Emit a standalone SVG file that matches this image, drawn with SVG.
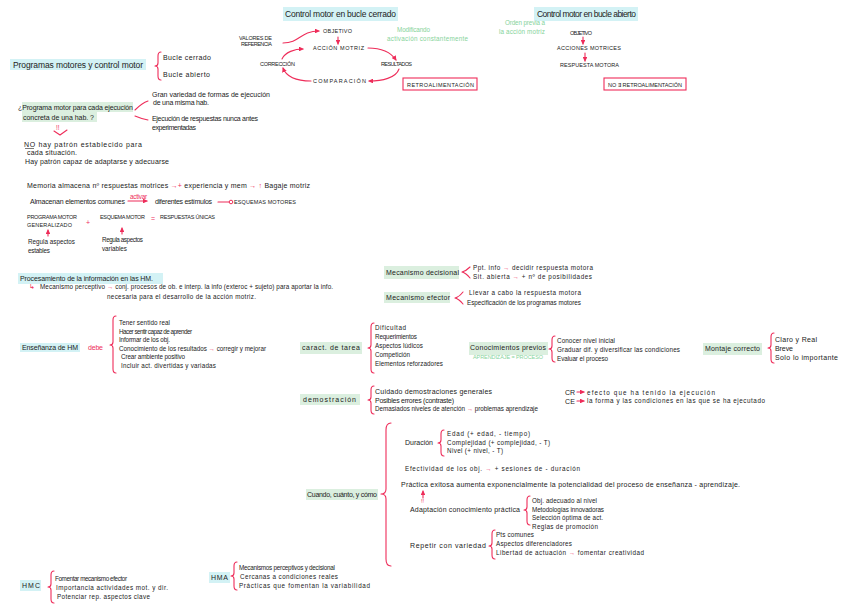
<svg xmlns="http://www.w3.org/2000/svg" width="848" height="612" viewBox="0 0 848 612">
<defs>
<style>
text{font-family:"Liberation Sans","DejaVu Sans",sans-serif;font-size:7px;fill:#222}
.m{font-size:8.5px}
.c{font-size:5.5px}
.s{font-size:6.3px}
.r{fill:#ee2d5a}
.g{fill:#86d39a}
.hc{fill:#d3f2f5}
.hg{fill:#dbefdf}
.ln{fill:none;stroke:#ee2d5a;stroke-width:1.1;stroke-linecap:round;stroke-linejoin:round}
.box{fill:none;stroke:#ee2d5a;stroke-width:1.1}
</style>
<marker id="ah" viewBox="0 0 6 6" refX="5" refY="3" markerWidth="4.5" markerHeight="4.5" orient="auto"><path d="M0,0 L6,3 L0,6 z" fill="#ee2d5a"/></marker>
</defs>
<rect width="848" height="612" fill="#ffffff"/>

<!-- highlights -->
<g id="highlights">
<rect class="hc" x="283" y="7" width="115" height="14"/>
<rect class="hc" x="534" y="7" width="104" height="14"/>
<rect class="hc" x="10" y="59" width="136" height="11"/>
<rect class="hg" x="22" y="102" width="111" height="10"/>
<rect class="hg" x="22" y="112" width="75" height="10"/>
<rect class="hc" x="18" y="273" width="145" height="11"/>
<rect class="hc" x="20" y="343" width="60" height="9"/>
<rect class="hg" x="384" y="266" width="75" height="13"/>
<rect class="hg" x="384" y="292" width="66" height="11"/>
<rect class="hg" x="300" y="342" width="62" height="12"/>
<rect class="hg" x="469" y="342" width="79" height="13"/>
<rect class="hg" x="703" y="343" width="59" height="12"/>
<rect class="hg" x="300" y="394" width="60" height="11"/>
<rect class="hg" x="306" y="489" width="72" height="11"/>
<rect class="hc" x="20" y="580" width="21" height="11"/>
<rect class="hc" x="209" y="572" width="21" height="11"/>
</g>

<!-- closed loop -->
<g id="closed-title"><text class="m" x="285" y="17" textLength="111">Control motor en bucle cerrado</text></g>
<g id="valores"><text class="c" x="239" y="40" textLength="33">VALORES DE</text><text class="c" x="241" y="46" textLength="31">REFERENCIA</text></g>
<g id="objetivo"><text class="c" x="323" y="33" textLength="29">OBJETIVO</text></g>
<g id="accion"><text class="c" x="313" y="50" textLength="51">ACCIÓN MOTRIZ</text></g>
<g id="correccion"><text class="c" x="260" y="66" textLength="35">CORRECCIÓN</text></g>
<g id="resultados"><text class="c" x="381" y="66" textLength="31">RESULTADOS</text></g>
<g id="comparacion"><text class="c" x="313" y="83" textLength="53">COMPARACIÓN</text></g>
<g id="modificando"><text class="g s" x="397" y="32" textLength="33">Modificando</text><text class="g s" x="387" y="41" textLength="81">activación constantemente</text></g>
<g id="retro"><rect class="box" x="403" y="78" width="74" height="12"/><text class="c" x="407" y="86.5" textLength="67">RETROALIMENTACIÓN</text></g>

<!-- open loop -->
<g id="open-title"><text class="m" x="537" y="17" textLength="99">Control motor en bucle abierto</text></g>
<g id="orden"><text class="g s" x="505" y="25" textLength="40">Orden previa a</text><text class="g s" x="499" y="34" textLength="46">la acción motriz</text></g>
<g id="objetivo2"><text class="c" x="570" y="35" textLength="22">OBJETIVO</text></g>
<g id="acciones"><text class="c" x="557" y="50" textLength="64">ACCIONES MOTRICES</text></g>
<g id="respuesta"><text class="c" x="560" y="67" textLength="59">RESPUESTA MOTORA</text></g>
<g id="noretro"><rect class="box" x="604" y="78" width="82" height="12"/><text class="c" x="608" y="86.5" textLength="74">NO ∃ RETROALIMENTACIÓN</text></g>

<!-- left block -->
<g id="programas"><text class="m" x="13" y="68" textLength="130">Programas motores y control motor</text></g>
<g id="bucles"><text x="163" y="60" textLength="48">Bucle cerrado</text><text x="163" y="77" textLength="47">Bucle abierto</text></g>
<g id="pregunta"><text x="18" y="110" textLength="115">¿Programa motor para cada ejecución</text><text x="23" y="120" textLength="71">concreta de una hab. ?</text></g>
<g id="gran"><text x="152" y="97" textLength="118">Gran variedad de formas de ejecución</text><text x="153" y="105" textLength="56">de una misma hab.</text></g>
<g id="ejec"><text x="152" y="121" textLength="106">Ejecución de respuestas nunca antes</text><text x="152" y="130" textLength="44">experimentadas</text></g>
<g id="nohay"><text x="24" y="147" textLength="118">NO hay patrón establecido para</text><text x="27" y="155" textLength="50">cada situación.</text><text x="25" y="164" textLength="144">Hay patrón capaz de adaptarse y adecuarse</text></g>

<g id="memoria"><text x="27" y="188" textLength="283">Memoria almacena nº respuestas motrices <tspan class="r">→+</tspan> experiencia y mem <tspan class="r">→ ↑</tspan> Bagaje motriz</text></g>
<g id="almacenan"><text x="30" y="204" textLength="95">Almacenan elementos comunes</text><text class="r s" x="130" y="199" textLength="17">activar</text><text x="155" y="204" textLength="57">diferentes estímulos</text><text class="c" x="234" y="204" textLength="62">ESQUEMAS MOTORES</text></g>
<g id="pmg"><text class="c" x="27" y="219" textLength="50">PROGRAMA MOTOR</text><text class="c" x="27" y="227" textLength="45">GENERALIZADO</text><text class="r" x="86" y="225" font-size="9">+</text><text class="c" x="100" y="219" textLength="45">ESQUEMA MOTOR</text><text class="r" x="151" y="221" font-size="9">=</text><text class="c" x="160" y="219" textLength="55">RESPUESTAS ÚNICAS</text></g>
<g id="regula1"><text class="s" x="28" y="244" textLength="47">Regula aspectos</text><text class="s" x="28" y="253" textLength="22">estables</text></g>
<g id="regula2"><text class="s" x="102" y="242" textLength="41">Regula aspectos</text><text class="s" x="102" y="251" textLength="25">variables</text></g>

<g id="procesamiento"><text x="20" y="281" textLength="133">Procesamiento de la información en las HM.</text><text class="r" x="29" y="289">↳</text><text class="s" x="40" y="289" textLength="293">Mecanismo perceptivo <tspan class="r">→</tspan> conj. procesos de ob. e interp. la info (exteroc + sujeto) para aportar la info.</text><text class="s" x="107" y="299" textLength="149">necesaria para el desarrollo de la acción motriz.</text></g>

<g id="ensenanza"><text x="22" y="350" textLength="56">Enseñanza de HM</text><text class="r" x="88" y="350" textLength="15">debe</text></g>
<g id="ens-items"><text class="s" x="119" y="325" textLength="51">Tener sentido real</text><text class="s" x="119" y="334" textLength="73">Hacer sentir capaz de aprender</text><text class="s" x="119" y="342" textLength="51">Informar de los obj.</text><text class="s" x="119" y="351" textLength="147">Conocimiento de los resultados <tspan class="r">→</tspan> corregir y mejorar</text><text class="s" x="121" y="359" textLength="64">Crear ambiente positivo</text><text class="s" x="121" y="368" textLength="95">Incluir act. divertidas y variadas</text></g>

<!-- middle -->
<g id="decisional"><text x="386" y="275" textLength="73">Mecanismo decisional</text><text class="s" x="473" y="270" textLength="120">Ppt. info <tspan class="r">→</tspan> decidir respuesta motora</text><text class="s" x="473" y="279" textLength="119">Sit. abierta <tspan class="r">→</tspan> + nº de posibilidades</text></g>
<g id="efector"><text x="386" y="300" textLength="64">Mecanismo efector</text><text class="s" x="469" y="295" textLength="112">Llevar a cabo la respuesta motora</text><text class="s" x="467" y="305" textLength="114">Especificación de los programas motores</text></g>

<g id="caract"><text x="302" y="350" textLength="58">caract. de tarea</text><text class="s" x="375" y="330" textLength="31">Dificultad</text><text class="s" x="375" y="339" textLength="42">Requerimientos</text><text class="s" x="375" y="348" textLength="48">Aspectos lúdicos</text><text class="s" x="375" y="357" textLength="35">Competición</text><text class="s" x="375" y="366" textLength="68">Elementos reforzadores</text></g>

<g id="previos"><text x="470" y="350" textLength="76">Conocimientos previos</text><text class="g c" x="473" y="359" textLength="70">APRENDIZAJE = PROCESO</text><text class="s" x="557" y="343" textLength="58">Conocer nivel inicial</text><text class="s" x="557" y="352" textLength="123">Graduar dif. y diversificar las condiciones</text><text class="s" x="557" y="361" textLength="51">Evaluar el proceso</text></g>

<g id="montaje"><text x="705" y="351" textLength="55">Montaje correcto</text><text x="775" y="342" textLength="42">Claro y Real</text><text x="775" y="351" textLength="18">Breve</text><text x="775" y="360" textLength="63">Solo lo importante</text></g>

<g id="demostracion"><text x="303" y="402" textLength="53">demostración</text><text x="375" y="394" textLength="117">Cuidado demostraciones generales</text><text x="375" y="403" textLength="79">Posibles errores (contraste)</text><text class="s" x="375" y="411" textLength="163">Demasiados niveles de atención <tspan class="r">→</tspan> problemas aprendizaje</text></g>

<g id="crce"><text x="565" y="395" font-size="8" textLength="10">CR</text><text x="565" y="404" font-size="8" textLength="10">CE</text><text class="s" x="587" y="395" textLength="128">efecto que ha tenido la ejecución</text><text class="s" x="587" y="403" textLength="178">la forma y las condiciones en las que se ha ejecutado</text></g>

<g id="cuando"><text x="307" y="497" textLength="70">Cuando, cuánto, y cómo</text></g>
<g id="duracion"><text x="405" y="445" textLength="28">Duración</text><text class="s" x="447" y="436" textLength="83">Edad (+ edad, - tiempo)</text><text class="s" x="447" y="445" textLength="103">Complejidad (+ complejidad, - T)</text><text class="s" x="447" y="453" textLength="56">Nivel (+ nivel, - T)</text></g>
<g id="efectividad"><text class="s" x="405" y="471" textLength="175">Efectividad de los obj. <tspan class="r">→</tspan> + sesiones de - duración</text></g>
<g id="practica"><text x="401" y="487" textLength="339">Práctica exitosa  aumenta exponencialmente la potencialidad del proceso de enseñanza - aprendizaje.</text></g>
<g id="adaptacion"><text x="410" y="512" textLength="110">Adaptación conocimiento práctica</text><text class="s" x="532" y="503" textLength="65">Obj. adecuado al nivel</text><text class="s" x="532" y="512" textLength="72">Metodologías innovadoras</text><text class="s" x="532" y="520" textLength="71">Selección óptima de act.</text><text class="s" x="532" y="529" textLength="66">Reglas de promoción</text></g>
<g id="repetir"><text x="410" y="548" textLength="76">Repetir con variedad</text><text class="s" x="496" y="537" textLength="38">Pts comunes</text><text class="s" x="496" y="546" textLength="76">Aspectos diferenciadores</text><text class="s" x="496" y="555" textLength="148">Libertad de actuación <tspan class="r">→</tspan> fomentar creatividad</text></g>

<g id="hmc"><text x="22" y="588" textLength="18">HMC</text><text class="s" x="55" y="581" textLength="72">Fomentar mecanismo efector</text><text class="s" x="56" y="590" textLength="112">Importancia actividades mot. y dir.</text><text class="s" x="57" y="599" textLength="93">Potenciar rep. aspectos clave</text></g>
<g id="hma"><text x="211" y="580" textLength="17">HMA</text><text class="s" x="239" y="570" textLength="96">Mecanismos perceptivos y decisional</text><text class="s" x="240" y="579" textLength="98">Cercanas a condiciones reales</text><text class="s" x="239" y="588" textLength="131">Prácticas que fomentan la variabilidad</text></g>

<!-- connectors -->
<g id="connectors">
<path class="ln" d="M283 43 C300 43 300 31 319 31" marker-end="url(#ah)"/>
<path class="ln" d="M338 37 L338 44" marker-end="url(#ah)"/>
<path class="ln" d="M368 48 C385 48 392 54 396 60" marker-end="url(#ah)"/>
<path class="ln" d="M399 69 C396 78 382 81 369 81" marker-end="url(#ah)"/>
<path class="ln" d="M311 81 C295 81 286 76 283 68" marker-end="url(#ah)"/>
<path class="ln" d="M282 59 C285 52 295 49 303 49" marker-end="url(#ah)"/>
<path class="ln" d="M583 37 L583 44" marker-end="url(#ah)"/>
<path class="ln" d="M585 53 L585 61" marker-end="url(#ah)"/>
<path class="ln" d="M135 110 Q142 103 148 101"/>
<path class="ln" d="M135 116 Q142 119 148 120"/>
<path class="ln" d="M54 131 L60 135 L67 130"/>
<text class="r s" x="56" y="130">!!</text>
<line x1="25" y1="148.5" x2="34" y2="148.5" stroke="#222" stroke-width="0.6"/>
<path class="ln" d="M128 201 L147 201" marker-end="url(#ah)"/>
<path class="ln" d="M218 202 L229 202"/>
<circle cx="231" cy="202" r="1.8" fill="none" stroke="#ee2d5a" stroke-width="1"/>
<path class="ln" d="M48 236 L48 230" marker-end="url(#ah)"/>
<path class="ln" d="M122 234 L122 228" marker-end="url(#ah)"/>
<path class="ln" d="M577 392 L584 392" marker-end="url(#ah)"/>
<path class="ln" d="M577 401 L584 401" marker-end="url(#ah)"/>
<path class="ln" d="M423 498 L423 491" marker-end="url(#ah)"/>
<text class="r c" x="421" y="503">!!</text>
<!-- braces -->
<path class="ln" d="M161 52 Q158 52 158 56 L158 63 Q158 66 155 66 Q158 66 158 69 L158 76 Q158 80 161 80"/>
<path class="ln" d="M116 316 Q113 316 113 320 L113 342 Q113 345 110 345 Q113 345 113 348 L113 369 Q113 373 116 373"/>
<path class="ln" d="M374 323 Q371 323 371 327 L371 345 Q371 348 368 348 Q371 348 371 351 L371 369 Q371 373 374 373"/>
<path class="ln" d="M555 336 Q552 336 552 340 L552 346 Q552 349 549 349 Q552 349 552 352 L552 358 Q552 362 555 362"/>
<path class="ln" d="M774 333 Q771 333 771 337 L771 345 Q771 348 768 348 Q771 348 771 351 L771 359 Q771 363 774 363"/>
<path class="ln" d="M374 386 Q371 386 371 390 L371 397 Q371 400 368 400 Q371 400 371 403 L371 410 Q371 414 374 414"/>
<path class="ln" d="M391 423 Q386 423 386 430 L386 489 Q386 494 381 494 Q386 494 386 499 L386 559 Q386 566 391 566"/>
<path class="ln" d="M444 430 Q441 430 441 434 L441 440 Q441 443 438 443 Q441 443 441 446 L441 452 Q441 456 444 456"/>
<path class="ln" d="M530 496 Q527 496 527 500 L527 507 Q527 510 524 510 Q527 510 527 513 L527 521 Q527 525 530 525"/>
<path class="ln" d="M495 530 Q492 530 492 534 L492 543 Q492 546 489 546 Q492 546 492 549 L492 555 Q492 559 495 559"/>
<path class="ln" d="M54 571 Q51 571 51 575 L51 584 Q51 587 48 587 Q51 587 51 590 L51 599 Q51 603 54 603"/>
<path class="ln" d="M237 562 Q234 562 234 566 L234 573 Q234 576 231 576 Q234 576 234 579 L234 586 Q234 590 237 590"/>
<path class="ln" d="M470 267 Q466 271 462 272 Q466 273 470 278"/>
<path class="ln" d="M463 292 Q459 297 455 298 Q459 299 463 304"/>
</g>
</svg>
